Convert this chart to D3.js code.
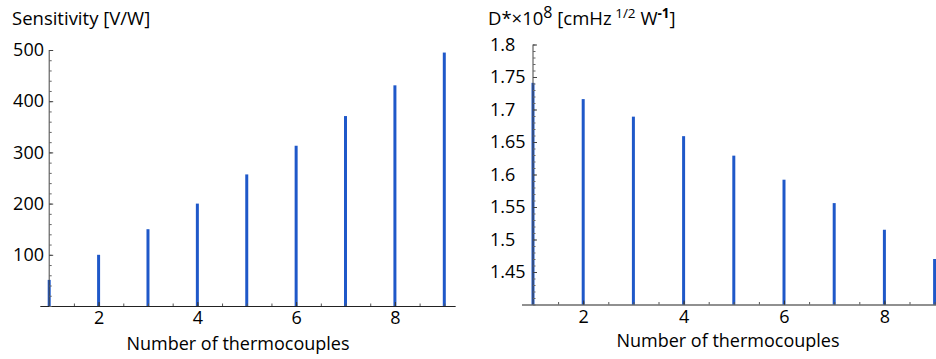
<!DOCTYPE html>
<meta charset="utf-8">
<style>
body { margin: 0; background: #fff; }
svg text { font-family: "Open Sans", "Noto Sans", sans-serif; fill: #000; }
.tick text { font-size: 18px; }
.axis-title { font-size: 18.5px; }
.axis-label { font-size: 18px; }
</style>
<svg width="936" height="359"></svg>
<script src="https://d3js.org/d3.v7.min.js"></script>
<script>

// data
var couples = [1, 2, 3, 4, 5, 6, 7, 8, 9];
var sensitivity = [51, 100, 150, 200, 257, 313, 371, 431, 495];
var detectivity = [1.741, 1.716, 1.689, 1.659, 1.629, 1.592, 1.556, 1.515, 1.470];

var sensTicks = [100, 200, 300, 400, 500];
var detTicks = ["1.45", "1.5", "1.55", "1.6", "1.65", "1.7", "1.75", "1.8"];
var xTicks = [2, 4, 6, 8];

var barColor = "#1f58c9";
var svg = d3.select("svg");

// one stick panel
function panel(opt) {
  var g = svg.append("g");
  var x = d3.scaleLinear().domain([1, 9]).range(opt.xr);
  var y = d3.scaleLinear().domain(opt.yd).range(opt.yr);

  // sticks
  g.selectAll(".bar")
    .data(couples)
    .join("line")
      .attr("class", "bar")
      .attr("x1", d => x(d)).attr("x2", d => x(d))
      .attr("y1", y(opt.yd[0]))
      .attr("y2", (d, i) => y(opt.values[i]))
      .attr("stroke", barColor)
      .attr("stroke-width", 3);

  // axis lines
  g.append("line")
      .attr("x1", x(opt.xExt[0])).attr("x2", x(opt.xExt[1]))
      .attr("y1", y(opt.yd[0]) + 0.5).attr("y2", y(opt.yd[0]) + 0.5)
      .attr("stroke", "#222").attr("stroke-width", 1.2);
  g.append("line")
      .attr("x1", x(1)).attr("x2", x(1))
      .attr("y1", y(opt.yd[0])).attr("y2", y(opt.yd[1]))
      .attr("stroke", "#444").attr("stroke-width", 1);

  // x minor + major ticks
  var xMinor = d3.range(1.5, 9.01, 0.5);
  g.append("g")
      .attr("transform", `translate(0,${y(opt.yd[0])})`)
      .call(d3.axisBottom(x).tickValues(xMinor).tickSize(-2.5).tickFormat(""))
      .call(a => a.select(".domain").remove())
      .selectAll("line").attr("stroke", "#555");
  var xa = g.append("g")
      .attr("transform", `translate(0,${y(opt.yd[0])})`)
      .call(d3.axisBottom(x).tickValues(xTicks).tickSize(-4))
      .call(a => a.select(".domain").remove());
  xa.selectAll("line").attr("stroke", "#333");
  xa.selectAll("text").attr("y", 18).attr("dy", 0);

  // y minor + major ticks
  g.append("g")
      .attr("transform", `translate(${x(1)},0)`)
      .call(d3.axisLeft(y).tickValues(opt.yMinor).tickSize(-2.5).tickFormat(""))
      .call(a => a.select(".domain").remove())
      .selectAll("line").attr("stroke", "#666");
  var ya = g.append("g")
      .attr("transform", `translate(${x(1)},0)`)
      .call(d3.axisLeft(y).tickValues(opt.yTicks.map(Number)).tickSize(-4)
        .tickFormat((d, i) => opt.yTicks[i]))
      .call(a => a.select(".domain").remove());
  ya.selectAll("line").attr("stroke", "#444");
  ya.selectAll("text")
      .attr("text-anchor", opt.labelAnchor)
      .attr("x", opt.labelX - x(1));

  // x label
  g.append("text")
      .attr("class", "axis-label")
      .attr("x", opt.xLabelX)
      .attr("y", opt.xLabelY)
      .attr("text-anchor", "middle")
      .text("Number of thermocouples");

  return g;
}

panel({
  xr: [49.2, 444.3], xExt: [0.82, 9.23],
  yd: [0, 500], yr: [306, 50],
  values: sensitivity,
  yTicks: sensTicks,
  yMinor: d3.range(0, 501, 20),
  labelAnchor: "end", labelX: 44,
  xLabelX: 238, xLabelY: 350
});

panel({
  xr: [533, 934.6], xExt: [0.78, 9.1],
  yd: [1.4, 1.8], yr: [304.5, 44.5],
  values: detectivity,
  yTicks: detTicks,
  yMinor: d3.range(140, 181, 1).map(d => d / 100),
  labelAnchor: "start", labelX: 490,
  xLabelX: 728, xLabelY: 347
});

// titles
svg.append("text")
    .attr("class", "axis-title")
    .attr("x", 12).attr("y", 25)
    .text("Sensitivity [V/W]");

var t2 = svg.append("text")
    .attr("class", "axis-title")
    .attr("x", 488).attr("y", 25);
t2.append("tspan").text("D*×10");
t2.append("tspan").attr("dy", -7).attr("font-size", "16px").text("8");
t2.append("tspan").attr("dy", 7).text(" [cmHz");
t2.append("tspan").attr("dy", -7).attr("font-size", "13.5px").text(" 1/2");
t2.append("tspan").attr("dy", 7).text(" W");
t2.append("tspan").attr("dy", -7).attr("font-size", "13.5px").attr("font-weight", "bold").text("-1");
t2.append("tspan").attr("dy", 7).text("]");

</script>
